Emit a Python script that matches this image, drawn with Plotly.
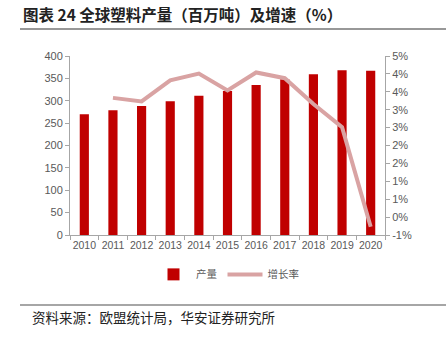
import plotly.graph_objects as go

years = ["2010", "2011", "2012", "2013", "2014", "2015", "2016", "2017", "2018", "2019", "2020"]
production = [270, 279, 288, 299, 311, 322, 335, 348, 359, 368, 367]
growth_years = years[1:]
growth = [3.33, 3.23, 3.82, 4.01, 3.54, 4.04, 3.88, 3.16, 2.51, -0.27]

left_ticks = [0, 50, 100, 150, 200, 250, 300, 350, 400]
right_tickvals = [-0.5, 0, 0.5, 1, 1.5, 2, 2.5, 3, 3.5, 4, 4.5]
right_ticktext = ["-1%", "0%", "1%", "1%", "2%", "2%", "3%", "3%", "4%", "4%", "5%"]

title_text = "图表 24 全球塑料产量（百万吨）及增速（%）"
source_text = "资料来源：欧盟统计局，华安证券研究所"

BAR = "#C00000"
LINE = "#D9A3A3"
AXIS = "#A6A6A6"
TICKFONT = dict(family="Liberation Sans, Arial, sans-serif", size=11, color="#595959")
XTICKFONT = dict(family="Liberation Sans, Arial, sans-serif", size=10.5, color="#595959")
CJK = "Noto Sans CJK SC"

fig = go.Figure()
fig.add_trace(go.Bar(x=years, y=production, name="产量", marker=dict(color=BAR, line=dict(width=0)),
                     yaxis="y"))
fig.add_trace(go.Scatter(x=growth_years, y=growth, name="增长率", mode="lines",
                         line=dict(color=LINE, width=4), yaxis="y2"))

fig.update_layout(
    width=446, height=339,
    margin=dict(l=70, r=61, t=56, b=104),
    paper_bgcolor="white", plot_bgcolor="white",
    bargap=0.68,
    showlegend=True,
    legend=dict(orientation="h", x=0.5, xanchor="center", y=-0.22, yanchor="middle",
                font=dict(family=CJK, size=10.5, color="#595959"), itemwidth=35,
                traceorder="normal"),
    xaxis=dict(type="category", showline=True, linecolor=AXIS, linewidth=1,
               ticks="outside", tickson="boundaries", ticklen=4, tickcolor=AXIS,
               tickfont=XTICKFONT, tickangle=0, showgrid=False, zeroline=False),
    yaxis=dict(range=[0, 400], tickvals=left_ticks, showline=True, linecolor=AXIS, linewidth=1,
               ticks="outside", ticklen=4, tickcolor=AXIS, tickfont=TICKFONT,
               showgrid=False, zeroline=False),
    yaxis2=dict(range=[-0.5, 4.5], tickvals=right_tickvals, ticktext=right_ticktext,
                overlaying="y", side="right", showline=True, linecolor=AXIS, linewidth=1,
                ticks="outside", ticklen=4, tickcolor=AXIS, tickfont=TICKFONT,
                showgrid=False, zeroline=False),
    annotations=[
        dict(text="<b>" + title_text + "</b>", xref="paper", yref="paper", x=-70/315, y=1 + 42/179,
             xanchor="left", yanchor="middle", showarrow=False, xshift=21,
             font=dict(family=CJK, size=15.5, color="#222222")),
        dict(text=source_text, xref="paper", yref="paper", x=-70/315, y=-(317-235)/179,
             xanchor="left", yanchor="middle", showarrow=False, xshift=30,
             font=dict(family=CJK, size=13.5, color="#222222")),
    ],
    shapes=[
        dict(type="line", xref="paper", yref="paper", x0=-50/315, x1=376/315,
             y0=1 + 27/179, y1=1 + 27/179, line=dict(color="#333333", width=1.2)),
        dict(type="line", xref="paper", yref="paper", x0=-50/315, x1=376/315,
             y0=-(305-235)/179, y1=-(305-235)/179, line=dict(color="#888888", width=1.5)),
    ],
)

fig.write_html("out.html")
